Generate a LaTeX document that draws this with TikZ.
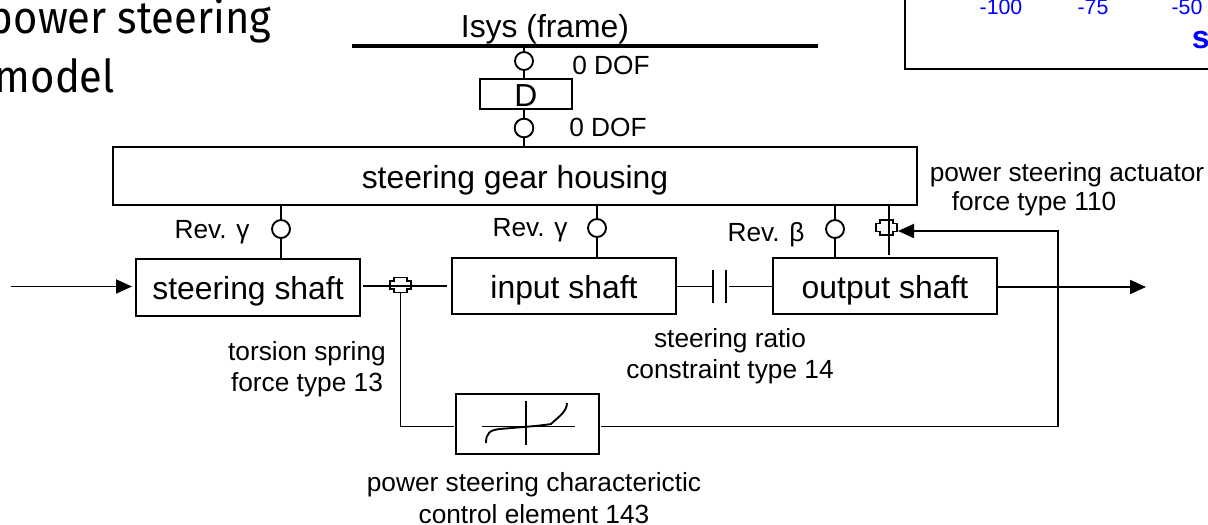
\documentclass[tikz,border=0pt]{standalone}
\usepackage{fontspec}
\setmainfont{Liberation Sans}
\newfontfamily\titlefont[FakeStretch=0.92]{Fira Sans}
\usetikzlibrary{arrows.meta,positioning,calc}

% force element: stepped cross, #1 name, #2 place
\newcommand{\forcesym}[2]{%
  \coordinate (#1) at (#2);
  \draw[shift={(#2)}] (-6.5,-7.5) -- (6.5,-7.5) -- (6.5,-4) -- (10.5,-4) -- (10.5,4) -- (6.5,4)
    -- (6.5,7.5) -- (-6.5,7.5) -- (-6.5,4) -- (-10.5,4) -- (-10.5,-4) -- (-6.5,-4) -- cycle;
}

\begin{document}
\begin{tikzpicture}[
  x=0.75pt, y=-0.75pt,
  line width=1.4pt,
  box/.style={draw, inner sep=0pt, minimum width=168pt, minimum height=42.5pt,
              text height=18pt, text depth=0pt, font=\fontsize{23.9}{28}\selectfont},
  joint/.style={draw, circle, inner sep=0pt, minimum size=13.5pt},
  lab/.style={inner sep=0pt, align=center, font=\fontsize{19.7}{23.5}\selectfont},
  arr/.style={-{Triangle[length=12pt, width=10.5pt]}},
  title/.style={inner sep=0pt, anchor=base west, font=\titlefont\fontsize{34}{40}\selectfont},
  tick/.style={inner sep=0pt, text=blue, font=\fontsize{16}{19}\selectfont}
]
  \useasboundingbox (0,0) rectangle (1208,525);

  % title and the cut off panel
  \node[title] (ttl1) at (-12,33) {power steering};
  \node[title] (ttl2) at (-6,92) {model};
  \draw[line width=2.2pt] (905,-5) rectangle (1220,69);
  \node[tick] (t100) at (1001,7) {-100};
  \node[tick] (t75) at (1093,7) {-75};
  \node[tick] (t50) at (1187,7) {-50};
  \node[tick, anchor=base west, font=\bfseries\fontsize{24}{28}\selectfont] (tst) at (1191,48) {s};

  % frame
  \coordinate (frameL) at (352,45.5);
  \coordinate (frameR) at (818,45.5);
  \draw[line width=3pt] (frameL) -- (frameR);
  \node[inner sep=0pt, font=\fontsize{23.9}{28}\selectfont] (isys) at (545,29) {Isys (frame)};

  % bodies
  \node[box, minimum width=69pt, minimum height=23pt] (dbox) at (526,94) {D};
  \node[box, minimum width=603pt, minimum height=43.5pt] (house) at (515,176) {steering gear housing};
  \node[box] (sshaft) at (248,287.5) {steering shaft};
  \node[box] (ishaft) at (564,286) {input shaft};
  \node[box] (oshaft) at (885,286) {output shaft};
  \node[box, minimum width=107pt, minimum height=45pt] (char) at (527.5,424) {};

  % joints
  \node[joint] (j1) at (524,61) {};
  \node[joint, minimum size=14pt] (j2) at (524,128) {};
  \node[joint] (jsteer) at (281,229) {};
  \node[joint] (jinput) at (597,228) {};
  \node[joint] (joutput) at (835,229) {};
  \draw (j1) -- (j1 |- frameL);
  \draw (j1) -- (j1 |- dbox.north);
  \draw (j2) -- (j2 |- dbox.south);
  \draw (j2) -- (j2 |- house.north);
  \draw (jsteer) -- (jsteer |- house.south);
  \draw (jsteer) -- (jsteer |- sshaft.north);
  \draw (jinput) -- (jinput |- house.south);
  \draw (jinput) -- (jinput |- ishaft.north);
  \draw (joutput) -- (joutput |- house.south);
  \draw (joutput) -- (joutput |- oshaft.north);

  % force elements
  \forcesym{spring}{400.5,285}
  \forcesym{actuator}{886.5,227.5}
  \coordinate (sleft) at (363,286);
  \coordinate (sright) at (447,286);
  \draw (sleft) -- (sright);
  \coordinate (atop) at (889,205);
  \coordinate (abot) at (889,255);
  \draw (atop) -- (abot);

  % steering ratio constraint
  \coordinate (plateA) at (713,286.5);
  \coordinate (plateB) at (726,286.5);
  \draw (ishaft.east |- plateA) -- (plateA);
  \draw (plateA) ++(0,-16.5) -- ++(0,33);
  \draw (plateB) ++(0,-16.5) -- ++(0,33);
  \draw (729,286.5) -- (oshaft.west |- plateB);

  % in and out
  \coordinate (inp) at (11,286.5);
  \coordinate (outp) at (1146,287);
  \draw[arr] (inp) -- (132,286.5);
  \draw[arr] (oshaft.east |- outp) -- (outp);

  % control loop
  \draw (spring) ++(0,7.5) |- (454,426.5);
  \draw (601,426.5) -| (1058,231) -- (913,231);
  \draw[arr] (1058,231) -- (898,231);

  % characteristic
  \draw (482,426.5) -- (575,426.5);
  \draw (525.7,401) -- (525.7,445);
  \draw (486,443) .. controls (486,433) and (490,430) .. (500,429)
    .. controls (510,428) and (540,426) .. (551,424)
    .. controls (557,418) and (567,412) .. (567,403);

  % labels
  \node[lab] (ldof1) at (611,65) {0 DOF};
  \node[lab] (ldof2) at (608,127) {0 DOF};
  \node[lab] (lgam1) at (212,232) {Rev. γ};
  \node[lab] (lgam2) at (530,230) {Rev. γ};
  \node[lab] (lbet) at (766,235) {Rev. β};
  \node[lab] (lact1) at (1067,175) {power steering actuator};
  \node[lab] (lact2) at (1034,204) {force type 110};
  \node[lab] (lspr) at (307,369) {torsion spring\\force type 13};
  \node[lab] (lrat) at (730,356) {steering ratio\\constraint type 14};
  \node[lab] (lchar) at (534,498) {power steering characterictic\\control element 143};
\end{tikzpicture}
\end{document}
